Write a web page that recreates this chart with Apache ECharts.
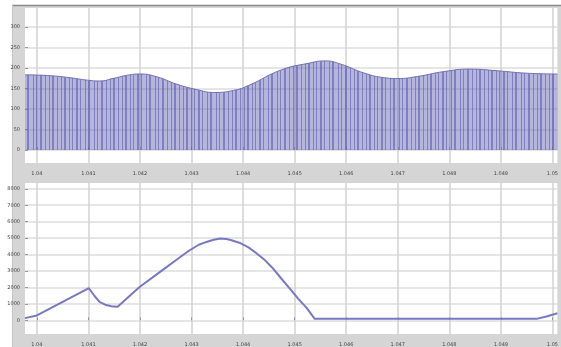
<!DOCTYPE html>
<html>
<head>
<meta charset="utf-8">
<script src="https://cdn.jsdelivr.net/npm/echarts@6/dist/echarts.min.js"></script>
<style>
html,body{margin:0;padding:0;background:#fff;}
#c{width:561px;height:347px;}
</style>
</head>
<body>
<div id="c"></div>
<script>
// ---- data ----
const xTicks = [1.04, 1.041, 1.042, 1.043, 1.044, 1.045, 1.046, 1.047, 1.048, 1.049, 1.05];
const topYTicks = [0, 50, 100, 150, 200, 250, 300];
const botYTicks = [0, 1000, 2000, 3000, 4000, 5000, 6000, 7000, 8000];

const topX = [1.039769, 1.04025, 1.04064, 1.040983, 1.041214, 1.041503, 1.041754, 1.042004, 1.042331, 1.042717, 1.043102, 1.04343, 1.043815, 1.044104, 1.04474, 1.04526, 1.045588, 1.045896, 1.046358, 1.046744, 1.046994, 1.04738, 1.0479, 1.048401, 1.048921, 1.049499, 1.050096];
const topY = [183, 181, 176, 170, 168, 175, 182, 185, 178, 160, 147, 140, 145, 157, 195, 211, 217, 209, 187, 176, 174, 179, 191, 197, 193, 187, 185];

const botX = [1.039769, 1.04, 1.041008, 1.041118, 1.041214, 1.041343, 1.041445, 1.041566, 1.041985, 1.04237, 1.042755, 1.042948, 1.043141, 1.043237, 1.043333, 1.043430, 1.043559, 1.043675, 1.043776, 1.043926, 1.044104, 1.044258, 1.044426, 1.044590, 1.04474, 1.044894, 1.045067, 1.045236, 1.045389, 1.049692, 1.049884, 1.050096];
const botY = [136, 296, 1953, 1479, 1124, 929, 860, 828, 2012, 2900, 3787, 4230, 4596, 4710, 4813, 4900, 4970, 4945, 4872, 4720, 4438, 4080, 3649, 3120, 2544, 1980, 1321, 740, 90, 90, 237, 434];

// ---- styling ----
const X_MIN = 1.039769, X_MAX = 1.050096;
function stripePattern(){
  const cv = document.createElement('canvas');
  cv.width = 61; cv.height = 4;
  const g = cv.getContext('2d');
  g.fillStyle = 'rgba(100,100,180,0.47)';
  g.fillRect(0,0,61,4);
  g.fillStyle = 'rgba(95,95,175,0.62)';
  const pos = [0,3,4,8,11,15,16,19,24,27,28,33,36,40,41,45,49,52,53,57];
  pos.forEach(p => g.fillRect(p,0,1,4));
  return cv;
}
const fmtX = v => String(Number(v.toFixed(3)));
const labelStyle = {fontSize: 5, color: '#444', fontFamily: 'DejaVu Sans'};

function xAxis(gi){
  return {
    type: 'value', gridIndex: gi, min: X_MIN, max: X_MAX,
    axisLine: {show: false},
    axisTick: {show: true, inside: true, length: 3, lineStyle: {color: '#999'}, customValues: xTicks},
    axisLabel: Object.assign({customValues: xTicks, formatter: fmtX, margin: 8, showMinLabel: true, showMaxLabel: true}, labelStyle),
    splitLine: {show: true, lineStyle: {color: '#d2d2d2', width: 1.5}}
  };
}
function yAxis(gi, min, max, ticks){
  return {
    type: 'value', gridIndex: gi, min: min, max: max,
    axisLine: {show: false},
    axisTick: {show: true, inside: true, length: 3, lineStyle: {color: '#999'}, customValues: ticks},
    axisLabel: Object.assign({customValues: ticks, margin: 5, formatter: v => String(v)}, labelStyle),
    splitLine: {show: true, lineStyle: {color: '#dcdcdc', width: 1.5}}
  };
}

const chart = echarts.init(document.getElementById('c'), null, {renderer: 'canvas'});
chart.setOption({
  animation: false,
  backgroundColor: '#fff',
  graphic: [
    {type: 'rect', z: -10, shape: {x: 12, y: 5, width: 549, height: 342}, style: {fill: '#d5d5d5'}},
    {type: 'line', z: -9, shape: {x1: 12, y1: 5.5, x2: 561, y2: 5.5}, style: {stroke: '#8a8a8a', lineWidth: 1.5}},
    {type: 'line', z: -9, shape: {x1: 12.5, y1: 5, x2: 12.5, y2: 347}, style: {stroke: '#c4c4c4', lineWidth: 1}}
  ],
  grid: [
    {left: 25, top: 8, right: 0, height: 155, show: true, backgroundColor: '#fff', borderWidth: 0},
    {left: 25, top: 183, right: 0, height: 155, show: true, backgroundColor: '#fff', borderWidth: 0}
  ],
  xAxis: [xAxis(0), xAxis(1)],
  yAxis: [yAxis(0, -32, 346, topYTicks), yAxis(1, -830, 8350, botYTicks)],
  series: [
    {
      type: 'line', xAxisIndex: 0, yAxisIndex: 0,
      data: topX.map((x, i) => [x, topY[i]]),
      smooth: 0.5, showSymbol: false,
      lineStyle: {color: '#7070b0', width: 1},
      areaStyle: {color: {image: stripePattern(), repeat: 'repeat'}, origin: 0, opacity: 1}
    },
    {
      type: 'line', xAxisIndex: 1, yAxisIndex: 1,
      data: botX.map((x, i) => [x, botY[i]]),
      smooth: false, showSymbol: false,
      lineStyle: {color: '#7878c0', width: 2}
    }
  ]
});
</script>
</body>
</html>
